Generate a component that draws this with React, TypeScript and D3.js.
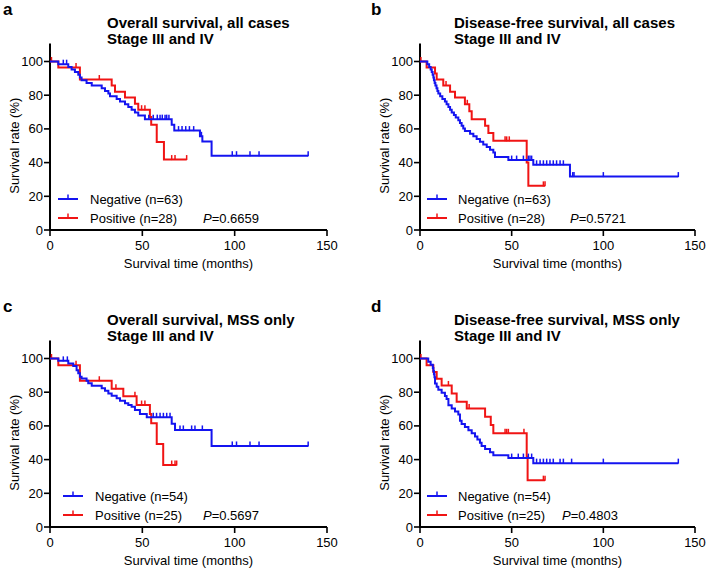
import React from 'react';
import * as d3 from 'd3';

const TITLES = [
  'Overall survival, all cases',
  'Disease-free survival, all cases',
  'Overall survival, MSS only',
  'Disease-free survival, MSS only',
];
const SUBTITLE = 'Stage III and IV';
const LETTERS = ['a', 'b', 'c', 'd'];
const N_NEG = [63, 63, 54, 54];
const N_POS = [28, 28, 25, 25];
const P_VALUES = ['0.6659', '0.5721', '0.5697', '0.4803'];
const X_TICKS = [0, 50, 100, 150];
const Y_TICKS = [0, 20, 40, 60, 80, 100];
const X_LABEL = 'Survival time (months)';
const Y_LABEL = 'Survival rate (%)';

// Panel a: overall survival, all cases
const A_NEG_T = [0, 4.5, 9.9, 11.7, 13.5, 15.3, 16.2, 17.1, 19.8, 22.6, 28, 29.8, 31.6, 32.5, 36.1, 37.9, 40.6, 42.4, 44.2, 46, 47.8, 51.4, 65.9, 67.3, 81.2, 82.5, 87.5];
const A_NEG_S = [100, 98.4, 96.8, 95.2, 93.7, 92.1, 90.5, 88.9, 87.3, 85.7, 84.1, 82.5, 81.0, 79.4, 77.8, 76.2, 74.6, 73.0, 71.4, 69.8, 67.9, 65.8, 62.4, 59.0, 55.6, 52.5, 44.1];
const A_NEG_C = [7.2, 9.0, 53.5, 55.9, 58.1, 59.6, 60.8, 62.3, 63.2, 64.4, 69.6, 71.5, 73.5, 75.5, 77.8, 82.0, 98.7, 101, 108.3, 113.2, 139.8];
const A_POS_T = [0, 4.5, 16.2, 33.4, 35.2, 40.6, 46, 47.8, 54.1, 54.8, 57.8, 61.7];
const A_POS_S = [100, 96.4, 89.3, 85.7, 82.1, 78.6, 75, 71.4, 67.0, 62.5, 52.3, 41.8];
const A_POS_C = [0.8, 14.1, 26.7, 49.6, 51.4, 65.9, 67.7, 74];

// Panel b: disease-free survival, all cases
const B_NEG_T = [0, 4.0, 5.0, 5.8, 6.4, 6.9, 7.3, 7.6, 8.0, 8.4, 9.0, 9.5, 10.0, 11.0, 12.2, 13.6, 14.5, 15.5, 16.4, 17.3, 18.5, 19.5, 20.9, 21.8, 22.7, 23.6, 24.5, 27.3, 29.1, 30.9, 32.7, 34.5, 36.4, 38.2, 40.0, 40.9, 48.2, 61.8, 81.8];
const B_NEG_S = [100, 98.4, 96.8, 95.2, 93.7, 92.1, 90.5, 88.9, 87.3, 85.7, 84.1, 82.5, 81.0, 79.4, 77.8, 76.2, 74.6, 73.0, 71.4, 69.8, 68.3, 66.7, 65.1, 63.5, 61.9, 60.3, 58.7, 57.1, 55.6, 54.0, 52.4, 50.8, 49.2, 47.6, 46.0, 43.3, 41.5, 38.7, 31.7];
const B_NEG_C = [50, 52.7, 56.4, 59.1, 60, 60.9, 63.6, 65.5, 67.3, 69.1, 70.9, 72.7, 74.5, 76.4, 78.2, 83.3, 84, 100, 140.9];
const B_POS_T = [0, 3.6, 8.2, 9.1, 12.7, 16.4, 19.1, 24.5, 26.9, 28.2, 35.5, 37.3, 40.0, 58.2, 59.1];
const B_POS_S = [100, 96.4, 92.9, 89.3, 85.7, 82.1, 78.6, 74.6, 70.5, 65.8, 61.9, 57.5, 52.9, 40.0, 26.2];
const B_POS_C = [0.5, 14.2, 25.8, 46.4, 47.3, 48.7, 67.3, 68.2];

// Panel c: overall survival, MSS only
const C_NEG_T = [0, 4.5, 9.9, 12.6, 14.4, 15.3, 16.2, 17.1, 19.8, 20.7, 22.6, 28, 29.8, 31.6, 33.4, 36.1, 37.9, 40.6, 42.4, 44.2, 46, 48.7, 52.4, 65.9, 67.7, 87.5];
const C_NEG_S = [100, 98.6, 97.0, 95.5, 93.1, 91.2, 89.2, 88.2, 86.8, 85.3, 83.9, 82.3, 80.9, 79.3, 77.9, 76.4, 75.0, 73.4, 72.4, 71.4, 69.5, 67.1, 65.1, 61.3, 57.6, 48.1];
const C_NEG_C = [7.2, 9.4, 55.9, 57.7, 59.6, 61.4, 63.2, 65.0, 70.4, 72.2, 76.7, 78.5, 82.5, 98.7, 101, 108.3, 113.2, 139.8];
const C_POS_T = [0, 4.5, 16.2, 33.4, 39.7, 46.9, 54.1, 54.8, 57.8, 61.3];
const C_POS_S = [100, 96.0, 86.8, 82.1, 77.6, 72.4, 67.0, 61.5, 49.2, 36.8];
const C_POS_C = [0.8, 14.1, 26.7, 35.7, 46.0, 49.6, 51.4, 65.9, 67.7, 68.6];

// Panel d: disease-free survival, MSS only
const D_NEG_T = [0, 4.5, 5.8, 7.0, 7.3, 7.6, 7.9, 8.2, 9.1, 10.0, 11.8, 13.6, 14.5, 15.5, 17.3, 19.1, 20.9, 21.8, 22.7, 24.5, 26.4, 28.2, 30.0, 31.3, 32.7, 33.6, 35.5, 38.2, 40.0, 48.2, 61.8];
const D_NEG_S = [100, 98.1, 96.3, 94.4, 92.6, 90.7, 88.9, 85.2, 83.3, 81.5, 79.6, 77.8, 75.9, 72.2, 70.4, 68.5, 66.7, 63.0, 61.1, 59.3, 57.4, 55.6, 53.7, 51.9, 50.0, 48.1, 46.3, 44.4, 42.6, 40.9, 37.9];
const D_NEG_C = [50, 53.6, 56.4, 59.1, 60.9, 63.6, 65.5, 67.3, 69.1, 70.9, 72.7, 76.4, 78.2, 82.7, 100, 140.9];
const D_POS_T = [0, 3.6, 7.3, 9.1, 11.8, 17.3, 20.0, 25.5, 35.5, 38.6, 40.0, 58.2, 58.7];
const D_POS_S = [100, 96.0, 92.0, 88.0, 84.0, 79.3, 74.4, 70.4, 65.5, 60.5, 55.6, 41.7, 27.8];
const D_POS_C = [0.5, 15.5, 26.8, 46.4, 47.3, 48.2, 56.7, 67.3, 68.2];

const SERIES = [
  { neg: [A_NEG_T, A_NEG_S, A_NEG_C], pos: [A_POS_T, A_POS_S, A_POS_C] },
  { neg: [B_NEG_T, B_NEG_S, B_NEG_C], pos: [B_POS_T, B_POS_S, B_POS_C] },
  { neg: [C_NEG_T, C_NEG_S, C_NEG_C], pos: [C_POS_T, C_POS_S, C_POS_C] },
  { neg: [D_NEG_T, D_NEG_S, D_NEG_C], pos: [D_POS_T, D_POS_S, D_POS_C] },
];

const LAYOUT = [
  { xL: 50, xR: 327, yT: 61.5, yB: 230, letterX: 3, titleX: 107, legLine: 58, legText: 90, pX: 203, yLab: 19, row: 0 },
  { xL: 420, xR: 695, yT: 61.5, yB: 230, letterX: 371, titleX: 454, legLine: 427, legText: 458, pX: 570, yLab: 389, row: 0 },
  { xL: 50, xR: 327, yT: 358.5, yB: 527, letterX: 3, titleX: 107, legLine: 63, legText: 95, pX: 203, yLab: 19, row: 1 },
  { xL: 420, xR: 695, yT: 358.5, yB: 527, letterX: 371, titleX: 454, legLine: 427, legText: 458, pX: 562, yLab: 389, row: 1 },
];

const BLUE = '#1414f0';
const RED = '#f01414';
const FONT = 'Arial, "Liberation Sans", Helvetica, sans-serif';

function stepAt(T: number[], S: number[], t: number) {
  let v = S[0];
  for (let i = 0; i < T.length; i++) if (T[i] <= t) v = S[i];
  return v;
}

function Curve({ data, x, y, color }: any) {
  const [T, S, C] = data;
  const pts: [number, number][] = T.map((t: number, i: number) => [t, S[i]]);
  const end = Math.max(T[T.length - 1], d3.max(C as number[]) || 0);
  pts.push([end, S[S.length - 1]]);
  const line = d3.line<[number, number]>().x(d => x(d[0])).y(d => y(d[1])).curve(d3.curveStepAfter);
  return (
    <g>
      <path d={line(pts) || ''} fill="none" stroke={color} strokeWidth={2} strokeLinejoin="miter" />
      {C.map((c: number, i: number) => {
        const cx = x(c);
        const cy = y(stepAt(T, S, c));
        return <line key={i} x1={cx} x2={cx} y1={cy - 4.5} y2={cy + 0.5} stroke={color} strokeWidth={1.5} />;
      })}
    </g>
  );
}

function Panel({ idx }: { idx: number }) {
  const L = LAYOUT[idx];
  const off = L.row * 297;
  const x = d3.scaleLinear().domain([0, 150]).range([L.xL, L.xR]);
  const y = d3.scaleLinear().domain([0, 100]).range([L.yB, L.yT]);
  const legY1 = 199 + off;
  const legY2 = 218 + off;
  return (
    <g fontFamily={FONT}>
      <text x={L.letterX} y={15 + off} fontSize={17} fontWeight="bold">{LETTERS[idx]}</text>
      <text x={L.titleX} y={28 + off} fontSize={15} fontWeight="bold">{TITLES[idx]}</text>
      <text x={L.titleX} y={43.5 + off} fontSize={15} fontWeight="bold">{SUBTITLE}</text>
      {/* axes */}
      <line x1={L.xL} x2={L.xL} y1={L.yT - 18} y2={L.yB} stroke="#000" strokeWidth={2} />
      <line x1={L.xL - 1} x2={L.xR} y1={L.yB} y2={L.yB} stroke="#000" strokeWidth={2} />
      {Y_TICKS.map(t => (
        <g key={'y' + t}>
          <line x1={L.xL - 6} x2={L.xL} y1={y(t)} y2={y(t)} stroke="#000" strokeWidth={1.6} />
          <text x={L.xL - 7} y={y(t)} dy="0.35em" textAnchor="end" fontSize={13}>{t}</text>
        </g>
      ))}
      {X_TICKS.map(t => (
        <g key={'x' + t}>
          <line x1={x(t)} x2={x(t)} y1={L.yB} y2={L.yB + 6} stroke="#000" strokeWidth={1.6} />
          <text x={x(t)} y={L.yB + 20} textAnchor="middle" fontSize={13}>{t}</text>
        </g>
      ))}
      <text x={(L.xL + L.xR) / 2} y={L.yB + 37.5} textAnchor="middle" fontSize={13}>{X_LABEL}</text>
      <text transform={`translate(${L.yLab},${(L.yT + L.yB) / 2}) rotate(-90)`} textAnchor="middle" fontSize={13}>{Y_LABEL}</text>
      {/* curves */}
      <Curve data={SERIES[idx].pos} x={x} y={y} color={RED} />
      <Curve data={SERIES[idx].neg} x={x} y={y} color={BLUE} />
      {/* legend */}
      <line x1={L.legLine} x2={L.legLine + 20} y1={legY1} y2={legY1} stroke={BLUE} strokeWidth={2} />
      <line x1={L.legLine + 10} x2={L.legLine + 10} y1={legY1 - 4.5} y2={legY1} stroke={BLUE} strokeWidth={1.5} />
      <text x={L.legText} y={legY1} dy="0.35em" fontSize={13}>{`Negative (n=${N_NEG[idx]})`}</text>
      <line x1={L.legLine} x2={L.legLine + 20} y1={legY2} y2={legY2} stroke={RED} strokeWidth={2} />
      <line x1={L.legLine + 10} x2={L.legLine + 10} y1={legY2 - 4.5} y2={legY2} stroke={RED} strokeWidth={1.5} />
      <text x={L.legText} y={legY2} dy="0.35em" fontSize={13}>{`Positive (n=${N_POS[idx]})`}</text>
      <text x={L.pX} y={legY2} dy="0.35em" fontSize={13}>
        <tspan fontStyle="italic">P</tspan>
        <tspan>{`=${P_VALUES[idx]}`}</tspan>
      </text>
    </g>
  );
}

export default function App() {
  return (
    <svg width={708} height={570} style={{ position: 'absolute', left: 0, top: 0, background: '#fff' }}>
      <rect width={708} height={570} fill="#fff" />
      {[0, 1, 2, 3].map(i => <Panel key={i} idx={i} />)}
    </svg>
  );
}
